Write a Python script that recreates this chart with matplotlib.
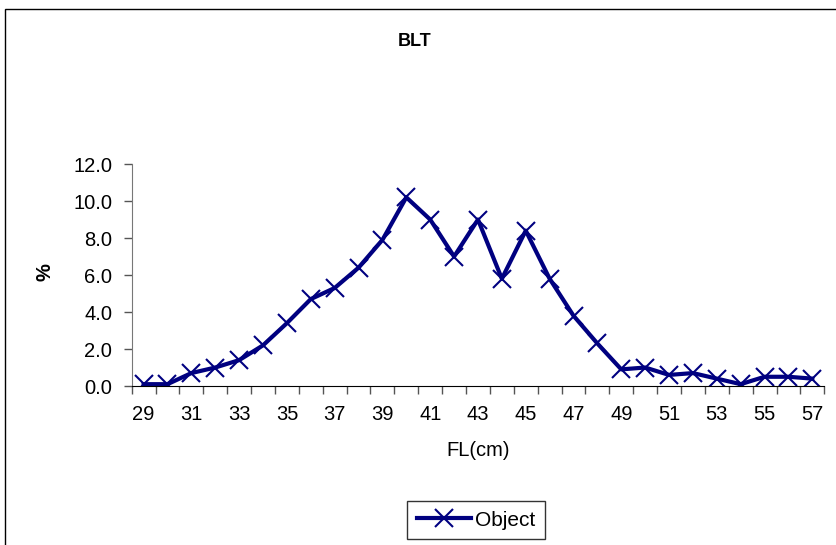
import matplotlib.pyplot as plt
from matplotlib.patches import Rectangle

plt.rcParams['font.family'] = ['Liberation Sans', 'DejaVu Sans']

fl = list(range(29, 58))
pct = [0.1, 0.1, 0.7, 1.0, 1.4, 2.2, 3.4, 4.7, 5.3, 6.4, 7.9, 10.2, 9.0, 7.0,
       9.0, 5.8, 8.4, 5.8, 3.8, 2.3, 0.9, 1.0, 0.6, 0.7, 0.4, 0.1, 0.5, 0.5, 0.4]
tick_labels = [str(v) for v in range(29, 58, 2)]

fig = plt.figure(figsize=(8.37, 5.45), dpi=100)
ax = fig.add_axes([0.1573, 0.2917, 0.8275, 0.4073])

ax.plot(fl, pct, color='#000080', linewidth=3, marker='x', markersize=13,
        markeredgewidth=1.5, label='Object')

ax.set_xlim(28.5, 57.5)
ax.set_ylim(0, 12)
ax.set_yticks([0, 2, 4, 6, 8, 10, 12])
ax.set_yticklabels(['%.1f' % v for v in [0, 2, 4, 6, 8, 10, 12]])
ax.set_xticks(list(range(29, 58, 2)))
ax.set_xticklabels(tick_labels)
ax.set_xticks([v + 0.5 for v in range(28, 58)], minor=True)
ax.tick_params(axis='x', which='major', length=0, pad=14, labelsize=14.5)
ax.tick_params(axis='x', which='minor', length=6, width=1, color='#555555')
ax.tick_params(axis='y', length=6, width=1, pad=8, labelsize=14.5, color='#555555')

ax.spines['top'].set_visible(False)
ax.spines['right'].set_visible(False)
ax.spines['left'].set_color('#777777')
ax.spines['bottom'].set_color('black')

ax.set_xlabel('FL(cm)', fontsize=14.5, labelpad=12)
fig.text(45 / 837, 1 - 272 / 545, '%', fontsize=14.5, fontweight='bold',
         rotation=90, ha='center', va='center')
fig.text(415 / 837, 1 - 42 / 545, 'BLT', fontsize=13, fontweight='bold',
         ha='center', va='center')

fig.legend(loc='center', bbox_to_anchor=(476 / 837, 1 - 520 / 545),
           fontsize=15, frameon=True, fancybox=False, edgecolor='black',
           handlelength=2.6, borderpad=0.45, handletextpad=0.2)

border = Rectangle((5 / 837, -0.1), 1.0, (545 - 9) / 545 + 0.1,
                   transform=fig.transFigure, fill=False, edgecolor='black',
                   linewidth=1, clip_on=False)
fig.patches.append(border)

fig.savefig('out.png', dpi=100)
